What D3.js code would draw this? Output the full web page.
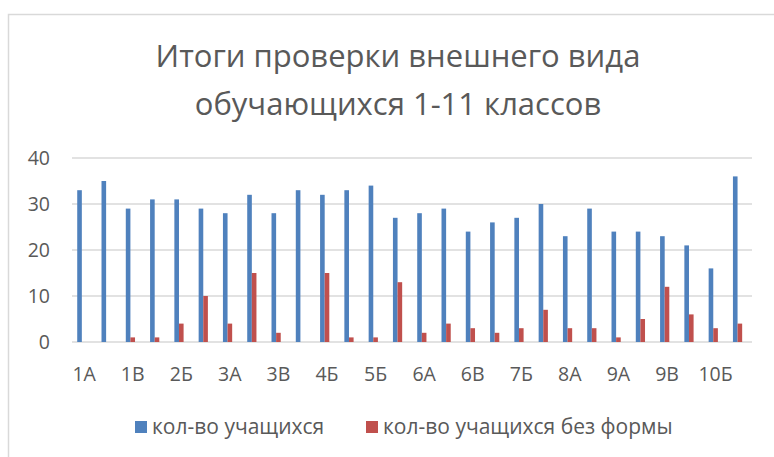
<!DOCTYPE html>
<html>
<head>
<meta charset="utf-8">
<script src="https://cdn.jsdelivr.net/npm/d3@7"></script>
<style>
  body { margin: 0; background: #fff; }
  text { font-family: "Open Sans", sans-serif; fill: #595959; }
</style>
</head>
<body>
<div id="chart-area"></div>
<script>
// data
var classes = ["1А","1Б","1В","2А","2Б","2В","3А","3Б","3В","4А","4Б","5А","5Б","5В",
  "6А","6Б","6В","7А","7Б","7В","8А","8Б","9А","9Б","9В","10А","10Б","11А"];
var students = [33,35,29,31,31,29,28,32,28,33,32,33,34,27,28,29,24,26,27,30,23,29,24,24,23,21,16,36];
var noUniform = [0,0,1,1,4,10,4,15,2,0,15,1,1,13,2,4,3,2,3,7,3,3,1,5,12,6,3,4];
var seriesNames = ["кол-во учащихся", "кол-во учащихся без формы"];
var colors = ["#4f81bd", "#c0504d"];
var yTicks = [0, 10, 20, 30, 40];
var titleLines = ["Итоги проверки внешнего вида", "обучающихся 1-11 классов"];

var W = 774, H = 457;
var margin = { left: 72, right: 22, top: 158, bottom: 115 };
var width = W - margin.left - margin.right;
var height = H - margin.top - margin.bottom;

var svg = d3.select("#chart-area").append("svg")
  .attr("width", W)
  .attr("height", H);

// chart border (only top and left are visible)
svg.append("rect")
  .attr("x", 8.5).attr("y", 14.5)
  .attr("width", W + 10).attr("height", H + 10)
  .attr("fill", "none")
  .attr("stroke", "#d9d9d9")
  .attr("stroke-width", 1.5);

// title
svg.append("text")
  .attr("text-anchor", "middle")
  .attr("font-size", 31)
  .selectAll("tspan")
  .data(titleLines)
  .enter().append("tspan")
  .attr("x", 398)
  .attr("y", (d, i) => 67 + i * 48)
  .text(d => d);

var g = svg.append("g")
  .attr("transform", "translate(" + margin.left + "," + margin.top + ")");

var x = d3.scaleBand()
  .domain(classes)
  .range([0, width]);

// excel leaves room for three bars per group; only two are used
var step = x.bandwidth();
var x1 = d3.scaleBand()
  .domain(seriesNames)
  .range([step * 0.215, step * 0.595]);

var y = d3.scaleLinear()
  .domain([0, 40])
  .range([height, 0]);

// gridlines
g.append("g")
  .selectAll("line")
  .data(yTicks)
  .enter().append("line")
  .attr("x1", 0)
  .attr("x2", width)
  .attr("y1", d => y(d))
  .attr("y2", d => y(d))
  .attr("stroke", "#d9d9d9")
  .attr("stroke-width", 1.5);

// y labels
var yAxisCall = d3.axisLeft(y).tickValues(yTicks).tickSize(0).tickPadding(22);
g.append("g")
  .call(yAxisCall)
  .call(s => s.select(".domain").remove())
  .selectAll("text")
  .attr("font-size", 19.5)
  .attr("font-family", "Open Sans")
  .attr("fill", "#595959");

// x labels, every second one
var xAxisCall = d3.axisBottom(x)
  .tickValues(classes.filter((d, i) => i % 2 === 0))
  .tickSize(0)
  .tickPadding(25);
g.append("g")
  .attr("transform", "translate(0," + height + ")")
  .call(xAxisCall)
  .call(s => s.select(".domain").remove())
  .selectAll("text")
  .attr("font-size", 19.5)
  .attr("font-family", "Open Sans")
  .attr("fill", "#595959");

// bars
var rows = classes.map((c, i) => ({ cls: c, vals: [students[i], noUniform[i]] }));
var groups = g.selectAll(".grp")
  .data(rows)
  .enter().append("g")
  .attr("class", "grp")
  .attr("transform", d => "translate(" + x(d.cls) + ",0)");

groups.selectAll("rect")
  .data(d => d.vals.map((v, k) => ({ key: seriesNames[k], v: v, k: k })))
  .enter().append("rect")
  .attr("x", d => x1(d.key))
  .attr("width", x1.bandwidth())
  .attr("y", d => y(d.v))
  .attr("height", d => height - y(d.v))
  .attr("fill", d => colors[d.k]);

// legend
var legendX = [135, 366];
var leg = svg.append("g")
  .selectAll("g")
  .data(seriesNames)
  .enter().append("g")
  .attr("transform", (d, i) => "translate(" + legendX[i] + ",421)");
leg.append("rect")
  .attr("width", 12).attr("height", 12)
  .attr("fill", (d, i) => colors[i]);
leg.append("text")
  .attr("x", 17)
  .attr("y", 13)
  .attr("font-size", 21)
  .text(d => d);
</script>
</body>
</html>
